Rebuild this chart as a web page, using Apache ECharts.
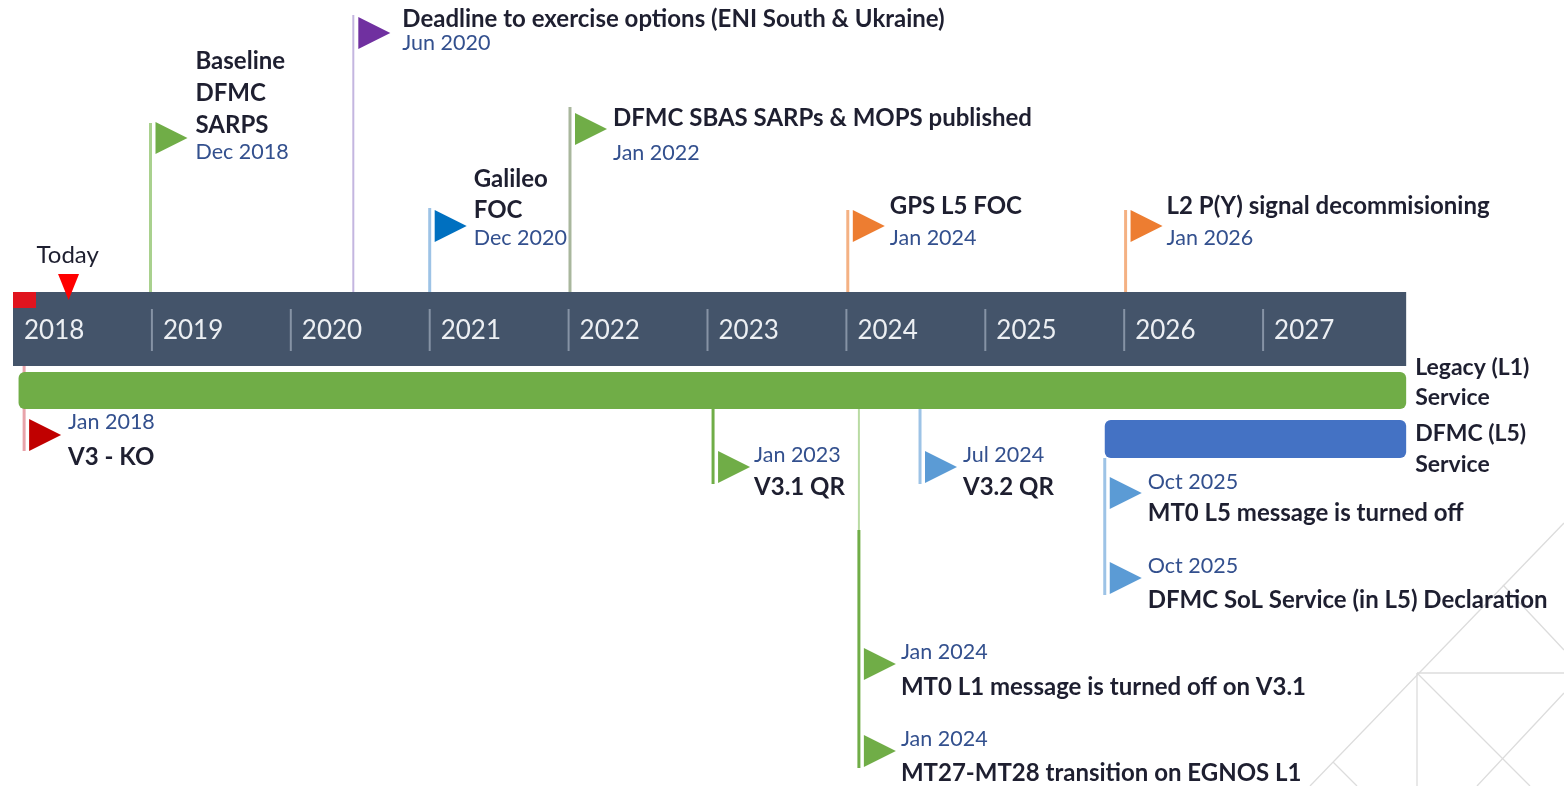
<!DOCTYPE html>
<html>
<head>
<meta charset="utf-8">
<script src="https://cdn.jsdelivr.net/npm/echarts@6/dist/echarts.min.js"></script>
<style>
html,body{margin:0;padding:0;background:#fff;}
#chart{width:1564px;height:786px;}
</style>
</head>
<body>
<div id="chart"></div>
<script>
// ---------------- DATA ----------------
const years = [2018, 2019, 2020, 2021, 2022, 2023, 2024, 2025, 2026, 2027];
const timelineStart = 2018;
const timelineEnd = 2028.03;
const todayDate = 2018.4;
const todayLabel = 'Today';

const milestoneTitles = [
  'Baseline\nDFMC\nSARPS',
  'Deadline to exercise options (ENI South & Ukraine)',
  'Galileo\nFOC',
  'DFMC SBAS SARPs & MOPS published',
  'GPS L5 FOC',
  'L2 P(Y) signal decommisioning',
  'V3 - KO',
  'V3.1 QR',
  'MT0 L1 message is turned off on V3.1',
  'MT27-MT28 transition on EGNOS L1',
  'V3.2 QR',
  'MT0 L5 message is turned off',
  'DFMC SoL Service (in L5) Declaration'
];
const milestoneDateLabels = [
  'Dec 2018', 'Jun 2020', 'Dec 2020', 'Jan 2022', 'Jan 2024', 'Jan 2026',
  'Jan 2018', 'Jan 2023', 'Jan 2024', 'Jan 2024', 'Jul 2024', 'Oct 2025', 'Oct 2025'
];
// decimal-year position of each milestone
const milestoneDates = [
  2018.99, 2020.45, 2021.0, 2022.01, 2024.01, 2026.01,
  2018.08, 2023.04, 2024.09, 2024.09, 2024.53, 2025.86, 2025.86
];

const serviceNames = ['Legacy (L1)\nService', 'DFMC (L5)\nService'];
const serviceStart = [2018.04, 2025.86];
const serviceEnd = [2028.03, 2028.03];

// ---------------- LAYOUT / STYLE (not data) ----------------
const FONT = 'Lato, "Open Sans", sans-serif';
const TITLE_FONT = 'bold 24px ' + FONT;
const DATE_FONT = '21.5px ' + FONT;
const TITLE_COLOR = '#1e1f30';
const DATE_COLOR = '#33508e';

const bandLayout = {top: 292, bottom: 366, color: '#44546a'};
const serviceLayout = [
  {top: 372, bottom: 409, color: '#70ad47', labelY: [368, 398]},
  {top: 420, bottom: 458, color: '#4472c4', labelY: [434, 465]}
];
const milestoneLayout = [
  {flagY: 138, titleY: 61, dateY: 152, gap: 32, tx: 45, poles: [[123, 292, '#a9d18e', 3]], flag: '#70ad47'},
  {flagY: 33, titleY: 19, dateY: 43, tx: 49, poles: [[15, 292, '#c4b6e0', 2]], flag: '#7030a0'},
  {flagY: 226, titleY: 179, dateY: 238, gap: 31, tx: 44, poles: [[208, 292, '#9dc3e6', 3]], flag: '#0070c0'},
  {flagY: 129, titleY: 118, dateY: 153, tx: 43, poles: [[107, 292, '#a9b79d', 3]], flag: '#70ad47'},
  {flagY: 226, titleY: 206, dateY: 238, tx: 42, poles: [[210, 292, '#f4b183', 3]], flag: '#ed7d31'},
  {flagY: 226, titleY: 206, dateY: 238, tx: 41, poles: [[210, 292, '#f4b183', 3]], flag: '#ed7d31'},
  {flagY: 435, titleY: 457, dateY: 422, tx: 44, poles: [[366, 451, '#e8a3aa', 3]], flag: '#c00000'},
  {flagY: 467, titleY: 487, dateY: 455, tx: 41, poles: [[409, 484, '#70ad47', 3]], flag: '#70ad47'},
  {flagY: 664, titleY: 687, dateY: 652, tx: 42, poles: [[409, 530, '#b9dba3', 2], [530, 768, '#70ad47', 3]], flag: '#70ad47'},
  {flagY: 751, titleY: 773, dateY: 739, tx: 42, poles: [], flag: '#70ad47'},
  {flagY: 467, titleY: 487, dateY: 455, tx: 43, poles: [[409, 484, '#9dc3e6', 3]], flag: '#5b9bd5'},
  {flagY: 493, titleY: 513, dateY: 482, tx: 43, poles: [[458, 595, '#9dc3e6', 3]], flag: '#5b9bd5'},
  {flagY: 578, titleY: 600, dateY: 566, tx: 43, poles: [], flag: '#5b9bd5'}
];

// ---------------- CHART ----------------
const chart = echarts.init(document.getElementById('chart'), null, {renderer: 'canvas'});

function bandRender(params, api) {
  const p0 = api.coord([api.value(0), bandLayout.top]);
  const p1 = api.coord([api.value(1), bandLayout.bottom]);
  return {
    type: 'group',
    children: [
      {type: 'rect', shape: {x: p0[0], y: p0[1], width: p1[0] - p0[0], height: p1[1] - p0[1]},
       style: {fill: bandLayout.color}},
      {type: 'rect', shape: {x: p0[0], y: p0[1], width: 23, height: 16}, style: {fill: '#e0141e'}}
    ]
  };
}

function yearRender(params, api) {
  const yr = api.value(0);
  const p = api.coord([yr, 0]);
  const children = [];
  if (params.dataIndex > 0) {
    children.push({type: 'line', shape: {x1: p[0], y1: 309, x2: p[0], y2: 351},
      style: {stroke: '#8693a5', lineWidth: 2}});
  }
  children.push({type: 'text', style: {text: String(yr), x: p[0] + 11, y: 331,
    font: '26px ' + FONT, fill: '#eceff3', align: 'left', verticalAlign: 'middle'}});
  return {type: 'group', children};
}

function todayRender(params, api) {
  const p = api.coord([api.value(0), 300]);
  return {
    type: 'group',
    children: [
      {type: 'polygon', shape: {points: [[p[0] - 10.5, 274], [p[0] + 10.5, 274], [p[0], 300]]},
       style: {fill: '#ff0000'}},
      {type: 'text', style: {text: todayLabel, x: p[0] - 32, y: 255, font: '24px ' + FONT,
        fill: '#1e1f30', align: 'left', verticalAlign: 'middle'}}
    ]
  };
}

function serviceRender(params, api) {
  const i = api.value(2);
  const L = serviceLayout[i];
  const p0 = api.coord([api.value(0), L.top]);
  const p1 = api.coord([api.value(1), L.bottom]);
  const lines = serviceNames[i].split('\n');
  const children = [
    {type: 'rect', shape: {x: p0[0], y: p0[1], width: p1[0] - p0[0], height: p1[1] - p0[1], r: 6},
     style: {fill: L.color}}
  ];
  lines.forEach((t, k) => {
    children.push({type: 'text', style: {text: t, x: p1[0] + 9, y: L.labelY[k], font: 'bold 23px ' + FONT,
      fill: TITLE_COLOR, align: 'left', verticalAlign: 'middle'}});
  });
  return {type: 'group', children};
}

function milestoneRender(params, api) {
  const i = api.value(1);
  const L = milestoneLayout[i];
  const x = api.coord([api.value(0), 0])[0];
  const children = [];
  L.poles.forEach(pl => {
    children.push({type: 'line', shape: {x1: x, y1: pl[0], x2: x, y2: pl[1]},
      style: {stroke: pl[2], lineWidth: pl[3]}});
  });
  const fx = x + 5;
  children.push({type: 'polygon', shape: {points: [[fx, L.flagY - 16], [fx + 32, L.flagY], [fx, L.flagY + 16]]},
    style: {fill: L.flag}});
  const lines = milestoneTitles[i].split('\n');
  const gap = L.gap || 31;
  lines.forEach((t, k) => {
    children.push({type: 'text', style: {text: t, x: x + L.tx, y: L.titleY + k * gap, font: TITLE_FONT,
      fill: TITLE_COLOR, align: 'left', verticalAlign: 'middle'}});
  });
  children.push({type: 'text', style: {text: milestoneDateLabels[i], x: x + L.tx, y: L.dateY, font: DATE_FONT,
    fill: DATE_COLOR, align: 'left', verticalAlign: 'middle'}});
  return {type: 'group', children};
}

const decoColor = '#dcdcdc';
const decoLines = [
  [1417, 673, 1564, 673], [1417, 673, 1417, 786], [1310, 786, 1564, 523],
  [1417, 673, 1530, 786], [1503, 585, 1564, 650], [1564, 693, 1477, 786], [1333, 762, 1357, 786]
];

const option = {
  animation: false,
  backgroundColor: '#ffffff',
  grid: {left: 13, right: 162, top: 0, bottom: 0},
  xAxis: {type: 'value', min: 2018, max: 2028, show: false},
  yAxis: {type: 'value', min: 0, max: 786, inverse: true, show: false},
  graphic: decoLines.map(l => ({type: 'line', z: -10, silent: true,
    shape: {x1: l[0], y1: l[1], x2: l[2], y2: l[3]}, style: {stroke: decoColor, lineWidth: 1.3}})),
  series: [
    {type: 'custom', name: 'milestones', z: 1, clip: false, renderItem: milestoneRender,
     data: milestoneDates.map((d, i) => [d, i]), encode: {x: 0}},
    {type: 'custom', name: 'band', z: 2, clip: false, renderItem: bandRender,
     data: [[timelineStart, timelineEnd]], encode: {x: [0, 1]}},
    {type: 'custom', name: 'years', z: 3, clip: false, renderItem: yearRender,
     data: years.map(y => [y]), encode: {x: 0}},
    {type: 'custom', name: 'services', z: 2, clip: false, renderItem: serviceRender,
     data: serviceStart.map((s, i) => [s, serviceEnd[i], i]), encode: {x: [0, 1]}},
    {type: 'custom', name: 'today', z: 4, clip: false, renderItem: todayRender,
     data: [[todayDate]], encode: {x: 0}}
  ]
};
chart.setOption(option);
</script>
</body>
</html>
